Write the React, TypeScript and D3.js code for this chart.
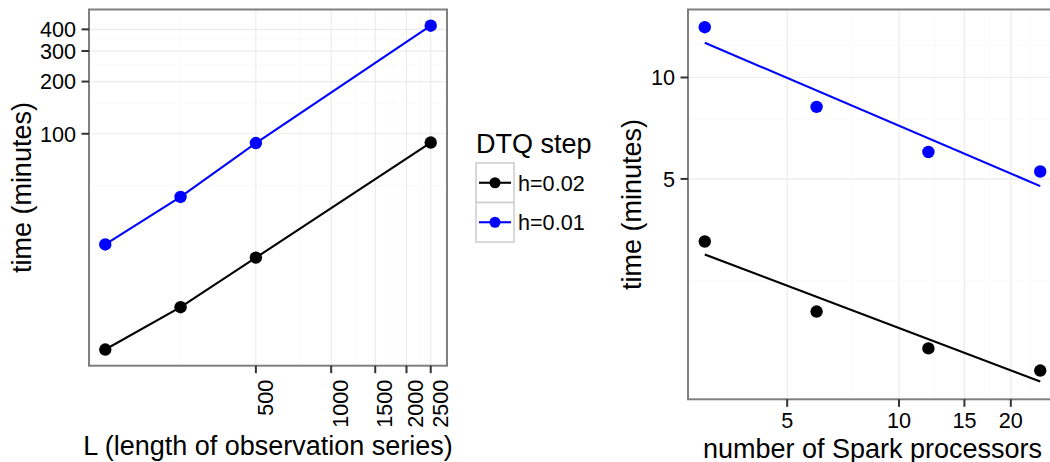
import React from "react";
import * as d3 from "d3";

// left panel: run time vs length of observation series
const seriesLength = [125, 250, 500, 2500];
const timeLenH002 = [5.7, 10.0, 19.3, 89.0];
const timeLenH001 = [23.0, 43.2, 88.4, 420];

// right panel: run time vs number of spark processors
const processors = [3, 6, 12, 24];
const timeProcH002 = [3.26, 2.02, 1.57, 1.35];
const timeProcH001 = [14.1, 8.18, 6.01, 5.26];

const stepLabels = ["h=0.02", "h=0.01"];
const stepColors = ["#000000", "#0000ff"];

const xTicksLen = [500, 1000, 1500, 2000, 2500];
const yTicksLen = [100, 200, 300, 400];
const xMinorLen = [250, 750, 1250, 1750, 2250];
const yMinorLen = [50, 150, 250, 350];

const xTicksProc = [5, 10, 15, 20];
const yTicksProc = [5, 10];
const xMinorProc = [7.5, 12.5, 17.5, 22.5];
const yMinorProc = [2.5, 7.5, 12.5];

const FONT = "'Liberation Sans', Arial, Helvetica, sans-serif";
const TICK_FS = 21.6;
const TITLE_FS = 27;

// log-scale domain with ggplot-like 5% expansion
function logDomain(vals: number[]): [number, number] {
  const lo = Math.log10(d3.min(vals) as number);
  const hi = Math.log10(d3.max(vals) as number);
  const pad = (hi - lo) * 0.05;
  return [Math.pow(10, lo - pad), Math.pow(10, hi + pad)];
}

// lm on log10(y) ~ log10(x), returns predicted y at x
function logFit(xs: number[], ys: number[]) {
  const lx = xs.map(Math.log10);
  const ly = ys.map(Math.log10);
  const mx = d3.mean(lx) as number;
  const my = d3.mean(ly) as number;
  let sxy = 0, sxx = 0;
  lx.forEach((v, i) => {
    sxy += (v - mx) * (ly[i] - my);
    sxx += (v - mx) * (v - mx);
  });
  const slope = sxy / sxx;
  return (x: number) => Math.pow(10, my + slope * (Math.log10(x) - mx));
}

const App = () => {
  // ---------- left panel ----------
  const L = { x0: 89, x1: 447, y0: 9.5, y1: 365.7 };
  const xL = d3.scaleLog().domain(logDomain(seriesLength)).range([L.x0, L.x1]);
  const yL = d3.scaleLog().domain(logDomain([...timeLenH002, ...timeLenH001])).range([L.y1, L.y0]);
  const lineL = d3.line<[number, number]>().x(d => xL(d[0])).y(d => yL(d[1]));
  const seriesLen = [timeLenH002, timeLenH001];

  // ---------- right panel ----------
  const R = { x0: 688, x1: 1057, y0: 9.5, y1: 399.3 };
  const fits = [logFit(processors, timeProcH002), logFit(processors, timeProcH001)];
  const pMin = d3.min(processors) as number;
  const pMax = d3.max(processors) as number;
  const fitVals = fits.flatMap(f => [f(pMin), f(pMax)]);
  const xR = d3.scaleLog().domain(logDomain(processors)).range([R.x0, R.x1]);
  const yR = d3.scaleLog()
    .domain(logDomain([...timeProcH002, ...timeProcH001, ...fitVals]))
    .range([R.y1, R.y0]);
  const seriesProc = [timeProcH002, timeProcH001];

  const minorCol = "#fafafa";
  const majorCol = "#ebebeb";

  return (
    <svg width={1050} height={462} style={{ position: "absolute", left: 0, top: 0, background: "#fff" }}
      fontFamily={FONT}>
      <defs>
        <clipPath id="clipR">
          <rect x={R.x0} y={R.y0} width={R.x1 - R.x0} height={R.y1 - R.y0} />
        </clipPath>
      </defs>

      {/* left panel grid */}
      <rect x={L.x0} y={L.y0} width={L.x1 - L.x0} height={L.y1 - L.y0} fill="#fff" />
      {yMinorLen.map(v => (
        <line key={"ym" + v} x1={L.x0} x2={L.x1} y1={yL(v)} y2={yL(v)} stroke={minorCol} strokeWidth={1.2} />
      ))}
      {xMinorLen.map(v => (
        <line key={"xm" + v} y1={L.y0} y2={L.y1} x1={xL(v)} x2={xL(v)} stroke={minorCol} strokeWidth={1.2} />
      ))}
      {yTicksLen.map(v => (
        <line key={"yM" + v} x1={L.x0} x2={L.x1} y1={yL(v)} y2={yL(v)} stroke={majorCol} strokeWidth={1.2} />
      ))}
      {xTicksLen.map(v => (
        <line key={"xM" + v} y1={L.y0} y2={L.y1} x1={xL(v)} x2={xL(v)} stroke={majorCol} strokeWidth={1.2} />
      ))}

      {/* left panel data */}
      {seriesLen.map((s, k) => (
        <g key={"sl" + k}>
          <path d={lineL(seriesLength.map((x, i) => [x, s[i]] as [number, number])) as string}
            fill="none" stroke={stepColors[k]} strokeWidth={2.1} />
          {seriesLength.map((x, i) => (
            <circle key={i} cx={xL(x)} cy={yL(s[i])} r={6.2} fill={stepColors[k]} />
          ))}
        </g>
      ))}
      <rect x={L.x0} y={L.y0} width={L.x1 - L.x0} height={L.y1 - L.y0} fill="none" stroke="#7f7f7f" strokeWidth={2} />

      {/* left axes */}
      {yTicksLen.map(v => (
        <g key={"ylt" + v}>
          <line x1={L.x0 - 7.5} x2={L.x0} y1={yL(v)} y2={yL(v)} stroke="#333" strokeWidth={2} />
          <text x={L.x0 - 13} y={yL(v)} dy="0.36em" textAnchor="end" fontSize={TICK_FS} fill="#000">{v}</text>
        </g>
      ))}
      {xTicksLen.map(v => (
        <g key={"xlt" + v}>
          <line x1={xL(v)} x2={xL(v)} y1={L.y1} y2={L.y1 + 7.5} stroke="#333" strokeWidth={2} />
          <text transform={`translate(${xL(v) + 17},${L.y1 + 14}) rotate(-90)`} textAnchor="end"
            fontSize={TICK_FS} fill="#000">{v}</text>
        </g>
      ))}
      <text x={(L.x0 + L.x1) / 2} y={455} textAnchor="middle" fontSize={TITLE_FS}>L (length of observation series)</text>
      <text transform={`translate(31,${(L.y0 + L.y1) / 2}) rotate(-90)`} textAnchor="middle" fontSize={TITLE_FS}>time (minutes)</text>

      {/* legend */}
      <text x={476} y={153} fontSize={TITLE_FS}>DTQ step</text>
      {stepLabels.map((lab, k) => (
        <g key={"lg" + k} transform={`translate(476,${163 + k * 39.5})`}>
          <rect x={0} y={0} width={38} height={39.5} fill="#fff" stroke="#cccccc" strokeWidth={1.5} />
          <line x1={3} x2={35} y1={19.75} y2={19.75} stroke={stepColors[k]} strokeWidth={2.1} />
          <circle cx={19} cy={19.75} r={5.5} fill={stepColors[k]} />
          <text x={42} y={19.75} dy="0.36em" fontSize={TICK_FS}>{lab}</text>
        </g>
      ))}

      {/* right panel grid */}
      <rect x={R.x0} y={R.y0} width={R.x1 - R.x0} height={R.y1 - R.y0} fill="#fff" />
      {yMinorProc.map(v => (
        <line key={"rym" + v} x1={R.x0} x2={R.x1} y1={yR(v)} y2={yR(v)} stroke={minorCol} strokeWidth={1.2} />
      ))}
      {xMinorProc.map(v => (
        <line key={"rxm" + v} y1={R.y0} y2={R.y1} x1={xR(v)} x2={xR(v)} stroke={minorCol} strokeWidth={1.2} />
      ))}
      {yTicksProc.map(v => (
        <line key={"ryM" + v} x1={R.x0} x2={R.x1} y1={yR(v)} y2={yR(v)} stroke={majorCol} strokeWidth={1.2} />
      ))}
      {xTicksProc.map(v => (
        <line key={"rxM" + v} y1={R.y0} y2={R.y1} x1={xR(v)} x2={xR(v)} stroke={majorCol} strokeWidth={1.2} />
      ))}

      {/* right panel data */}
      <g clipPath="url(#clipR)">
        {seriesProc.map((s, k) => (
          <g key={"sp" + k}>
            {processors.map((x, i) => (
              <circle key={i} cx={xR(x)} cy={yR(s[i])} r={6.2} fill={stepColors[k]} />
            ))}
            <line x1={xR(pMin)} x2={xR(pMax)} y1={yR(fits[k](pMin))} y2={yR(fits[k](pMax))}
              stroke={stepColors[k]} strokeWidth={2.1} />
          </g>
        ))}
      </g>
      <rect x={R.x0} y={R.y0} width={R.x1 - R.x0} height={R.y1 - R.y0} fill="none" stroke="#7f7f7f" strokeWidth={2} />

      {/* right axes */}
      {yTicksProc.map(v => (
        <g key={"yrt" + v}>
          <line x1={R.x0 - 7.5} x2={R.x0} y1={yR(v)} y2={yR(v)} stroke="#333" strokeWidth={2} />
          <text x={R.x0 - 13} y={yR(v)} dy="0.36em" textAnchor="end" fontSize={TICK_FS} fill="#000">{v}</text>
        </g>
      ))}
      {xTicksProc.map(v => (
        <g key={"xrt" + v}>
          <line x1={xR(v)} x2={xR(v)} y1={R.y1} y2={R.y1 + 7.5} stroke="#333" strokeWidth={2} />
          <text x={xR(v)} y={428} textAnchor="middle" fontSize={TICK_FS} fill="#000">{v}</text>
        </g>
      ))}
      <text x={(R.x0 + R.x1) / 2} y={457.5} textAnchor="middle" fontSize={TITLE_FS}>number of Spark processors</text>
      <text transform={`translate(641,${(R.y0 + R.y1) / 2}) rotate(-90)`} textAnchor="middle" fontSize={TITLE_FS}>time (minutes)</text>
    </svg>
  );
};

export default App;
